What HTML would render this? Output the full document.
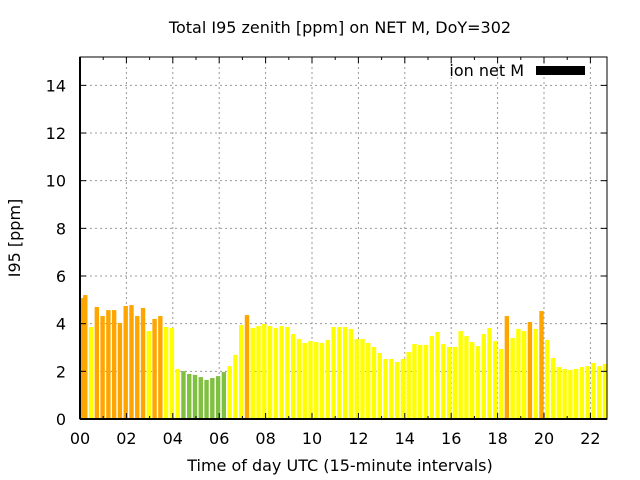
<!DOCTYPE html>
<html><head><meta charset="utf-8"><style>
body{margin:0;background:#fff}
svg{display:block;font-family:"DejaVu Sans","Liberation Sans",sans-serif}
</style></head><body>
<svg id="chart" width="640" height="480">
<text x="340" y="33" text-anchor="middle" font-size="16">Total I95 zenith [ppm] on NET M, DoY=302</text>
<text x="340" y="471" text-anchor="middle" font-size="16">Time of day UTC (15-minute intervals)</text>
<text transform="translate(20,238) rotate(-90)" text-anchor="middle" font-size="16">I95 [ppm]</text>
<g id="grid"></g><g id="bars"></g><g id="axes"></g>
<text x="524" y="76" text-anchor="end" font-size="16">ion net M</text>
<rect x="536" y="66" width="49" height="9" fill="#000"/>
</svg>
<script>
const values=[5.08,5.2,3.86,4.7,4.32,4.57,4.57,4.03,4.74,4.78,4.32,4.66,3.69,4.2,4.32,3.86,3.82,2.1,2.01,1.89,1.85,1.76,1.64,1.72,1.8,1.97,2.22,2.69,3.94,4.36,3.82,
3.9,3.99,3.9,3.82,3.9,3.86,3.57,3.36,3.19,3.27,3.23,3.19,3.32,3.86,3.86,3.86,3.78,3.36,3.36,3.19,3.02,2.77,2.52,2.52,2.39,2.52,2.81,3.15,3.11,3.11,
3.48,3.65,3.15,3.02,3.02,3.69,3.48,3.23,3.06,3.57,3.82,3.27,2.94,4.32,3.4,3.78,3.69,4.07,3.78,4.53,3.32,2.56,2.18,2.1,2.06,2.1,2.18,2.22,2.35,2.22,2.31];
const levels="OOYOOOOOOOOOYOOYYYGGGGGGGGYYYOY".split("").concat(Array(61).fill("Y"));
const orangeLate=[74,78,80];
const yTicks=[0,2,4,6,8,10,12,14];
const xTickLabels=["00","02","04","06","08","10","12","14","16","18","20","22"];
const X0=80,X1=607,Y0=419,YT=57,YMAX=15.19;
const y=v=>Y0-(v/YMAX)*(Y0-YT);
const xh=h=>X0+h*23.2;
const xb=i=>79.5+i*5.775;
const colors={O:"#ffa500",Y:"#ffff00",G:"#80c040"};
orangeLate.forEach(i=>levels[i]="O");
const NS="http://www.w3.org/2000/svg";
const mk=(p,t,a)=>{const e=document.createElementNS(NS,t);for(const k in a)e.setAttribute(k,a[k]);document.getElementById(p).appendChild(e);return e;};
yTicks.forEach(v=>{
 if(v>0){const g=mk("grid","line",{x1:X0,x2:X1,y1:y(v),y2:y(v),stroke:"#999","stroke-dasharray":"2,3"});
 
 }
 const t=mk("axes","text",{x:66,y:y(v)+6,"text-anchor":"end","font-size":16});t.textContent=v;
 
 
 mk("axes","line",{x1:X0,x2:X0+6,y1:y(v),y2:y(v),stroke:"#000"});
 mk("axes","line",{x1:X1-6,x2:X1,y1:y(v),y2:y(v),stroke:"#000"});
});
for(let h=1;h<23;h+=2){
 mk("axes","line",{x1:xh(h),x2:xh(h),y1:YT,y2:YT+3,stroke:"#000"});
 mk("axes","line",{x1:xh(h),x2:xh(h),y1:Y0-3,y2:Y0,stroke:"#000"});
}
xTickLabels.forEach((l,k)=>{
 const xx=xh(k*2);
 if(k>0){const g=mk("grid","line",{x1:xx,x2:xx,y1:YT,y2:Y0,stroke:"#999","stroke-dasharray":"2,3"});
 
 }
 mk("axes","line",{x1:xx,x2:xx,y1:YT,y2:YT+6,stroke:"#000"});
 mk("axes","line",{x1:xx,x2:xx,y1:Y0-6,y2:Y0,stroke:"#000"});
 const t=mk("axes","text",{x:xx,y:444,"text-anchor":"middle","font-size":16});t.textContent=l;
 
 
});
values.forEach((v,i)=>{
 const r=mk("bars","rect",{x:Math.max(X0,xb(i)-2.2),y:y(v),width:4.4,height:Y0-y(v),fill:colors[levels[i]]});
 
 
});
const f=mk("axes","rect",{x:X0,y:YT,width:X1-X0,height:Y0-YT,fill:"none",stroke:"#000","stroke-width":1});


const b=mk("axes","line",{x1:X0,x2:X1,y1:Y0,y2:Y0,stroke:"#000","stroke-width":2});


const l=mk("axes","line",{x1:X0,x2:X0,y1:YT,y2:Y0,stroke:"#000","stroke-width":2});


</script>
</body></html>
